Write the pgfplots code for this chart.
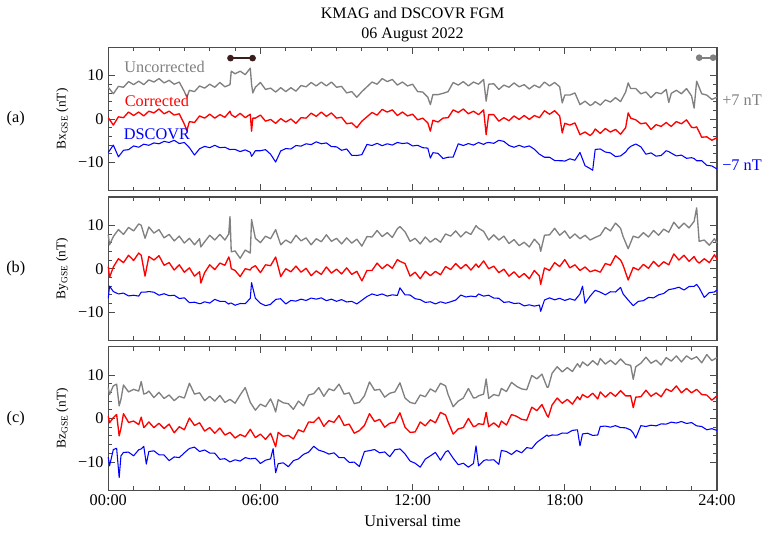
\documentclass[border=0pt]{standalone}
\usepackage{pgfplots}
\pgfplotsset{compat=1.18}
\usepackage{pgfplotstable}
\usepackage{fontspec}
\setmainfont{Liberation Serif}
\definecolor{kgray}{RGB}{128,128,128}
\definecolor{kred}{RGB}{255,0,0}
\definecolor{kblue}{RGB}{0,0,255}
\definecolor{kbar}{RGB}{58,30,30}

\pgfplotstableread{
x g r b
0.0 7.3 0.3 -7.7
0.2 5.8 -1.4 -6.0
0.4 7.5 0.5 -8.7
0.6 7.3 0.3 -7.2
0.8 8.6 1.6 -7.05
1.0 7.9 0.8 -6.2
1.2 8.7 1.6 -6.5
1.4 7.9 0.7 -5.8
1.6 9.0 1.8 -6.05
1.8 8.5 1.4 -5.5
2.0 9.3 2.3 -5.7
2.2 8.3 1.2 -5.15
2.4 8.9 1.8 -5.4
2.6 8.0 0.9 -4.9
2.8 8.5 1.2 -5.65
3.0 6.3 -1.2 -5.4
3.1 5.0 -2.6 -6.0
3.2 6.6 -0.6 -6.6
3.4 6.3 -0.8 -8.3
3.6 7.6 0.7 -6.85
3.8 7.1 0.2 -6.3
4.0 8.0 1.1 -6.6
4.2 7.3 0.2 -6.05
4.4 8.4 1.0 -6.6
4.6 7.4 0.4 -6.5
4.8 7.9 1.8 -7.05
4.85 11.0 1.0 -7.0
5.0 10.4 0.4 -7.0
5.2 11.0 1.3 -7.5
5.4 10.2 0.3 -7.1
5.6 11.7 1.1 -7.65
5.65 8.0 -2.8 -8.6
5.7 6.0 0.2 -8.2
5.8 7.3 0.2 -7.3
6.0 8.4 0.9 -7.3
6.2 6.8 -0.5 -7.05
6.4 7.1 -0.1 -8.1
6.6 6.2 -1.0 -9.9
6.8 7.2 0.1 -7.35
7.0 6.3 -0.7 -6.8
7.2 7.2 0.0 -6.9
7.4 6.4 -1.0 -6.1
7.6 7.7 0.3 -6.25
7.8 7.4 0.2 -5.7
8.0 8.4 1.35 -5.9
8.2 7.6 0.6 -5.25
8.4 8.5 1.6 -5.7
8.6 7.6 0.6 -5.5
8.8 8.5 1.4 -6.35
9.0 7.3 0.2 -6.4
9.2 7.5 0.4 -7.2
9.4 6.0 -1.1 -6.9
9.6 6.3 -0.9 -8.35
9.8 5.0 -2.0 -8.4
10.0 6.3 -0.5 -8.2
10.2 7.4 0.5 -5.85
10.4 8.5 1.5 -6.1
10.6 8.0 0.9 -5.6
10.8 9.3 2.2 -6.15
11.0 8.6 1.6 -5.7
11.2 9.1 2.1 -6.0
11.4 7.8 0.8 -5.4
11.6 8.5 1.6 -5.65
11.8 7.6 0.7 -5.5
12.0 8.0 1.1 -6.2
12.2 6.3 -0.2 -6.05
12.4 6.2 0.2 -6.6
12.6 5.0 -0.9 -6.7
12.7 3.3 -2.8 -9.0
12.8 5.6 -0.3 -7.75
13.0 5.6 -0.7 -7.9
13.2 5.9 0.2 -9.1
13.4 6.3 0.3 -8.8
13.6 8.4 2.1 -8.75
13.8 7.8 1.5 -5.7
14.0 8.6 2.3 -6.1
14.2 7.6 1.2 -5.65
14.4 8.5 1.8 -6.0
14.6 8.0 1.0 -5.4
14.8 9.1 2.1 -5.85
14.9 4.1 -3.6 -5.5
15.0 8.0 1.0 -5.4
15.2 8.1 1.0 -5.6
15.4 6.8 -0.5 -4.9
15.6 7.8 0.3 -5.15
15.8 7.3 -0.4 -6.1
16.0 8.3 0.7 -6.5
16.2 7.4 -0.1 -6.05
16.4 7.9 0.8 -6.5
16.6 6.9 -0.1 -6.2
16.8 7.8 0.8 -6.95
17.0 7.2 0.3 -8.1
17.2 8.5 1.9 -8.8
17.4 7.6 1.1 -8.8
17.6 8.4 1.9 -9.55
17.8 7.4 0.7 -9.6
17.9 3.7 -3.2 -9.6
18.0 5.5 -1.0 -9.7
18.2 5.5 -1.4 -9.15
18.4 6.0 -0.9 -9.5
18.6 3.3 -3.6 -7.7
18.8 4.1 -3.0 -10.75
19.0 3.1 -3.8 -11.4
19.1 3.4 -3.3 -11.8
19.2 4.0 -2.3 -7.0
19.4 3.2 -3.3 -6.9
19.6 4.4 -2.2 -7.6
19.8 3.9 -3.0 -7.8
20.0 4.9 -2.4 -8.65
20.2 4.0 -3.5 -8.5
20.4 6.2 -2.0 -7.6
20.5 8.3 1.4 -6.8
20.6 7.0 0.2 -6.3
20.8 7.0 -0.2 -5.75
21.0 5.8 -1.1 -6.4
21.2 6.2 -0.9 -8.1
21.4 4.9 -2.4 -7.8
21.6 6.1 -1.3 -8.55
21.8 5.8 -1.7 -8.4
22.0 6.8 -0.8 -7.3
22.1 3.8 -1.3 -7.5
22.2 5.9 -1.7 -7.85
22.4 6.6 -0.6 -8.5
22.6 5.8 -1.1 -8.3
22.8 7.0 -0.2 -9.05
23.0 5.3 -1.9 -8.9
23.1 2.5 -2.0 -9.1
23.2 8.7 -1.8 -9.6
23.4 5.8 -4.2 -9.6
23.6 5.5 -4.1 -10.65
23.8 4.5 -4.9 -10.8
24.0 5.0 -4.3 -11.5
}\tabA

\pgfplotstableread{
x g r b
0.0 7.8 0.5 -6.8
0.05 5.5 -2.0 -4.0
0.2 7.4 0.4 -5.25
0.4 9.0 2.3 -5.8
0.6 7.9 1.4 -5.6
0.8 9.5 3.1 -6.25
1.0 8.7 1.9 -6.1
1.2 10.3 3.6 -6.3
1.3 10.0 3.1 -5.4
1.45 7.0 -1.7 -5.4
1.6 9.6 2.8 -5.25
1.8 8.2 2.0 -5.4
2.0 9.0 3.0 -6.1
2.2 7.1 0.8 -5.75
2.4 7.9 1.4 -6.2
2.6 6.4 -0.3 -6.1
2.8 7.5 0.9 -6.85
3.0 5.9 -0.8 -6.7
3.2 7.0 0.2 -7.8
3.4 5.5 -1.7 -7.7
3.6 6.9 -0.7 -8.05
3.65 5.0 -3.3 -8.0
3.8 6.2 -0.9 -7.6
4.0 7.7 0.9 -7.9
4.2 6.6 -0.2 -7.05
4.4 7.9 1.3 -7.5
4.6 6.6 0.8 -7.5
4.75 8.0 2.7 -8.15
4.8 12.0 1.8 -7.9
4.85 3.9 0.0 -7.9
5.0 4.1 -0.4 -8.4
5.2 2.4 -1.8 -8.0
5.4 4.3 0.0 -8.05
5.6 3.6 -0.3 -6.8
5.65 11.3 0.2 -3.2
5.8 7.0 0.7 -6.8
6.0 6.0 -0.9 -7.95
6.2 7.5 0.9 -8.5
6.4 6.9 0.7 -8.2
6.6 9.0 2.7 -7.05
6.8 5.5 -1.8 -6.9
7.0 6.6 0.0 -8.1
7.2 5.9 -0.7 -7.3
7.4 7.7 0.6 -7.45
7.6 6.4 -0.8 -7.0
7.8 7.1 0.1 -7.3
8.0 5.5 -1.6 -6.75
8.2 6.9 -0.5 -7.0
8.4 6.2 -1.3 -6.7
8.6 7.8 0.4 -7.35
8.8 6.3 -1.0 -7.0
9.0 7.0 -0.1 -7.5
9.2 5.7 -1.2 -7.1
9.4 7.1 0.2 -7.65
9.6 5.9 -1.3 -7.5
9.8 6.8 -0.6 -8.1
10.0 5.2 -2.8 -7.25
10.2 7.4 -0.4 -6.4
10.4 7.3 -0.4 -5.8
10.6 8.8 1.3 -6.15
10.8 7.4 0.0 -5.8
11.0 8.3 1.0 -6.3
11.2 7.2 0.1 -6.0
11.4 9.2 2.1 -6.15
11.5 9.7 1.7 -4.4
11.7 8.5 1.2 -6.0
11.9 6.3 -1.7 -6.05
12.1 7.0 -0.8 -6.9
12.3 5.7 -2.3 -7.1
12.5 7.3 -0.6 -7.75
12.7 6.1 -1.6 -7.6
12.9 7.0 -0.6 -8.1
13.1 6.1 -1.4 -7.6
13.3 8.0 0.5 -7.95
13.5 7.5 -0.2 -7.6
13.7 8.7 1.2 -7.2
13.9 7.3 0.0 -6.05
14.1 8.5 1.0 -6.5
14.3 7.9 -0.3 -6.3
14.5 9.9 1.1 -6.45
14.6 9.3 0.3 -5.8
14.8 8.6 1.8 -6.3
15.0 6.6 0.0 -6.1
15.2 7.8 0.6 -6.75
15.4 6.6 -0.9 -6.8
15.6 7.5 -0.1 -7.75
15.8 5.8 -1.7 -7.6
16.0 6.7 -0.7 -8.0
16.2 5.3 -2.0 -7.9
16.4 6.1 -1.1 -8.55
16.6 5.0 -2.3 -8.3
16.8 6.8 -0.4 -8.6
17.0 5.5 -1.7 -8.35
17.05 4.0 -3.6 -9.8
17.2 7.7 0.2 -7.2
17.4 7.8 -0.4 -6.7
17.6 9.3 1.4 -7.15
17.8 7.7 0.5 -6.8
18.0 8.7 2.1 -7.3
18.2 7.0 0.2 -6.9
18.4 8.0 0.9 -7.25
18.6 6.9 -0.4 -5.8
18.7 7.3 0.0 -4.0
18.8 7.7 0.4 -7.95
19.0 6.6 -0.7 -6.3
19.2 7.2 -0.3 -4.95
19.4 7.7 -0.8 -5.4
19.6 9.5 1.2 -6.0
19.8 8.7 0.8 -5.3
20.0 10.5 3.0 -5.35
20.2 9.3 2.0 -4.3
20.3 7.4 0.8 -5.8
20.5 4.6 -2.6 -7.2
20.7 7.5 0.3 -8.5
20.9 7.1 -0.3 -7.5
21.1 8.3 1.0 -7.35
21.3 7.3 0.1 -6.6
21.5 8.8 1.7 -6.7
21.7 7.7 0.5 -6.0
21.9 9.1 1.6 -5.7
22.1 8.4 0.9 -4.8
22.3 10.7 3.4 -4.6
22.5 9.3 2.0 -4.25
22.7 10.5 3.1 -4.9
22.9 9.4 1.7 -4.1
23.1 10.9 2.8 -4.05
23.2 14.0 1.8 -3.6
23.3 6.3 1.3 -4.4
23.5 6.6 2.3 -6.6
23.7 5.4 1.4 -5.5
23.9 6.9 3.2 -5.35
24.0 5.9 2.3 -4.9
}\tabB

\pgfplotstableread{
x g r b
0.0 7.1 0.5 -8.9
0.05 5.5 -1.0 -10.9
0.2 7.5 0.2 -7.15
0.33 7.9 0.9 -6.85
0.43 2.9 -4.0 -13.6
0.5 4.4 -2.3 -8.6
0.6 7.7 1.1 -7.8
0.8 6.1 -0.9 -7.75
1.0 6.7 -0.6 -8.6
1.2 6.3 -1.4 -7.2
1.3 8.5 0.3 -7.0
1.4 5.6 -2.1 -6.4
1.5 5.8 -1.5 -10.5
1.6 6.3 -0.8 -7.6
1.8 4.8 -2.1 -7.45
2.0 6.0 -1.1 -8.35
2.2 4.6 -2.3 -8.4
2.4 5.4 -1.3 -9.7
2.6 4.1 -3.3 -8.85
2.8 5.1 -1.9 -9.0
3.0 4.7 -2.6 -7.9
3.2 8.1 0.1 -6.9
3.4 5.6 -1.6 -6.6
3.6 5.9 -1.0 -7.6
3.8 4.1 -2.9 -7.25
4.0 5.1 -2.1 -7.95
4.2 4.0 -3.4 -8.0
4.4 5.3 -2.2 -9.4
4.6 3.7 -3.8 -9.25
4.8 4.4 -3.2 -10.0
5.0 3.5 -4.5 -9.5
5.2 5.4 -3.7 -9.8
5.4 7.1 -4.2 -9.0
5.6 3.7 -2.5 -9.3
5.8 1.9 -4.4 -9.15
6.0 3.3 -3.6 -10.35
6.2 2.7 -4.8 -9.6
6.4 4.5 -3.4 -9.3
6.5 3.2 -4.9 -6.95
6.6 1.5 -6.5 -12.5
6.7 4.3 -3.2 -10.4
6.9 3.6 -4.1 -10.2
7.1 3.4 -3.9 -11.1
7.3 2.1 -4.7 -9.7
7.5 4.0 -2.6 -9.3
7.7 2.9 -3.1 -8.25
7.9 5.4 -0.8 -7.75
8.1 5.7 -0.9 -6.4
8.3 7.1 0.3 -7.3
8.5 5.1 -1.8 -7.65
8.7 6.8 -0.5 -8.2
8.9 6.4 -0.9 -7.9
9.1 7.9 0.7 -9.0
9.3 5.6 -1.6 -9.0
9.5 5.9 -1.3 -10.1
9.7 3.4 -3.4 -10.05
9.9 3.7 -2.8 -11.05
10.1 5.2 -1.6 -7.6
10.3 8.4 1.1 -7.4
10.5 6.5 -0.7 -7.15
10.7 6.7 -0.2 -7.9
10.9 4.9 -2.0 -7.7
11.1 5.8 -1.1 -8.8
11.3 6.1 -0.9 -7.2
11.5 8.2 1.3 -7.0
11.7 4.7 -2.0 -8.15
11.9 3.7 -3.2 -9.8
12.1 3.4 -3.1 -10.3
12.3 5.4 -0.8 -11.2
12.5 5.0 -1.7 -9.35
12.7 6.8 -0.3 -8.6
12.9 6.1 -1.0 -7.8
13.1 8.1 1.4 -9.6
13.3 7.5 0.8 -7.7
13.4 5.5 -0.8 -7.4
13.6 2.7 -3.6 -9.15
13.8 4.0 -2.4 -10.65
14.0 4.7 -2.1 -10.3
14.2 6.9 0.0 -11.2
14.4 4.7 -1.9 -10.35
14.5 4.8 -1.7 -6.3
14.6 5.2 -1.2 -10.9
14.8 5.6 -1.4 -9.7
14.9 9.1 1.4 -9.5
15.0 4.6 -1.9 -9.6
15.2 5.5 -1.0 -9.5
15.4 5.2 -2.0 -10.55
15.5 6.9 -0.6 -7.35
15.7 6.2 -1.5 -7.6
15.9 8.3 0.9 -8.3
16.1 7.4 0.5 -7.35
16.3 6.8 -0.2 -7.9
16.5 6.6 -0.4 -6.7
16.7 9.9 2.6 -6.9
16.9 9.1 1.8 -5.5
17.1 10.2 3.2 -4.65
17.3 7.2 0.7 -3.8
17.35 7.2 0.3 -4.1
17.5 10.4 3.1 -3.8
17.7 11.9 4.7 -3.85
17.9 10.7 3.5 -3.35
18.1 11.7 4.4 -3.4
18.3 10.8 3.3 -2.75
18.5 12.6 5.0 -2.6
18.6 11.8 4.3 -6.3
18.7 13.0 5.5 -3.55
18.9 12.1 4.8 -3.4
19.1 13.3 5.8 -3.9
19.3 12.3 4.5 -3.8
19.4 13.8 6.1 -1.85
19.6 12.5 4.9 -1.75
19.8 13.4 6.0 -2.0
20.0 12.4 5.1 -1.65
20.2 13.7 6.4 -2.1
20.4 12.5 5.2 -2.15
20.6 12.2 5.2 -2.65
20.7 9.0 2.5 -3.35
20.8 11.9 4.9 -4.5
21.0 12.7 5.0 -1.65
21.2 14.1 6.5 -1.85
21.4 12.7 5.1 -1.55
21.6 13.4 5.9 -1.7
21.8 12.3 5.0 -1.25
22.0 14.0 6.8 -1.3
22.2 13.2 6.2 -0.85
22.4 14.4 7.5 -1.05
22.6 13.0 5.9 -0.7
22.8 14.4 6.9 -1.15
23.0 13.6 5.9 -0.95
23.2 14.2 6.7 -1.7
23.4 12.8 5.5 -1.85
23.6 14.7 5.4 -2.6
23.8 13.3 4.2 -2.35
24.0 14.0 5.2 -2.75
}\tabC

\newcommand{\lf}{\fontsize{12.2}{14}\selectfont}

\pgfplotsset{
  panel/.style={
    scale only axis,
    width=456.5pt, height=107.6pt,
    xmin=0, xmax=24, ymin=-16.5, ymax=16.5,
    xtick={0,6,12,18,24}, minor x tick num=5,
    ytick={-10,0,10}, yticklabels={−10,0,10},
    minor y tick num=4,
    tick align=inside,
    major tick length=5pt, minor tick length=3pt,
    axis line style={draw=black!70, line width=0.9pt},
    every tick/.style={black!70, line width=0.6pt},
    tick label style={font=\lf, text=black},
    label style={font=\lf},
    every axis y label/.style={at={(axis description cs:-0.0755,0.5)}, rotate=90, anchor=center},
    clip=false,
  },
  gline/.style={color=kgray, line width=1.0pt, line join=round},
  rline/.style={color=kred, line width=1.0pt, line join=round},
  bline/.style={color=kblue, line width=0.8pt, line join=round},
}

\begin{document}
\begin{tikzpicture}
\useasboundingbox (0,0) rectangle (574.5pt,404.25pt);

% Panel (a)
\begin{axis}[panel, at={(81.2pt,368.8pt)}, anchor=north west,
  xticklabels={},
  ylabel={Bx\textsubscript{GSE} (nT)},
  title={KMAG and DSCOVR FGM\\06 August 2022},
  title style={align=center, font=\fontsize{12}{15}\selectfont, at={(axis description cs:0.5,1)}, anchor=south, yshift=-5.5pt},
]
\addplot[gline] table[x=x,y=g]{\tabA};
\addplot[rline] table[x=x,y=r]{\tabA};
\addplot[bline] table[x=x,y=b]{\tabA};
\addplot[color=kbar, line width=1.5pt, mark=*, mark size=1.7pt] coordinates {(4.82,14) (5.69,14)};
\addplot[color=kgray, line width=1.5pt, mark=*, mark size=1.7pt] coordinates {(23.3,14.1) (23.85,14.1)};
\node[anchor=west, text=kgray, font=\lf] at (axis cs:0.45,11.9) {Uncorrected};
\node[anchor=west, text=kred, font=\lf] at (axis cs:0.47,4.1) {Corrected};
\node[anchor=west, text=kblue, font=\lf] at (axis cs:0.43,-3.6) {DSCOVR};
\node[anchor=west, text=kgray, font=\lf, inner sep=0pt] at (axis cs:24.2,4.3) {+7 nT};
\node[anchor=west, text=kblue, font=\lf, inner sep=0pt] at (axis cs:24.2,-10.7) {−7 nT};
\node[font=\lf] at (axis description cs:-0.152,0.5) {(a)};
\end{axis}

% Panel (b)
\begin{axis}[panel, at={(81.2pt,256.5pt)}, anchor=north west,
  xticklabels={},
  ylabel={By\textsubscript{GSE} (nT)},
]
\addplot[gline] table[x=x,y=g]{\tabB};
\addplot[rline] table[x=x,y=r]{\tabB};
\addplot[bline] table[x=x,y=b]{\tabB};
\node[font=\lf] at (axis description cs:-0.152,0.5) {(b)};
\end{axis}

% Panel (c)
\begin{axis}[panel, at={(81.2pt,144.2pt)}, anchor=north west,
  xticklabels={00:00,06:00,12:00,18:00,24:00},
  ylabel={Bz\textsubscript{GSE} (nT)},
  xlabel={Universal time},
]
\addplot[gline] table[x=x,y=g]{\tabC};
\addplot[rline] table[x=x,y=r]{\tabC};
\addplot[bline] table[x=x,y=b]{\tabC};
\node[font=\lf] at (axis description cs:-0.152,0.5) {(c)};
\end{axis}
\end{tikzpicture}
\end{document}
